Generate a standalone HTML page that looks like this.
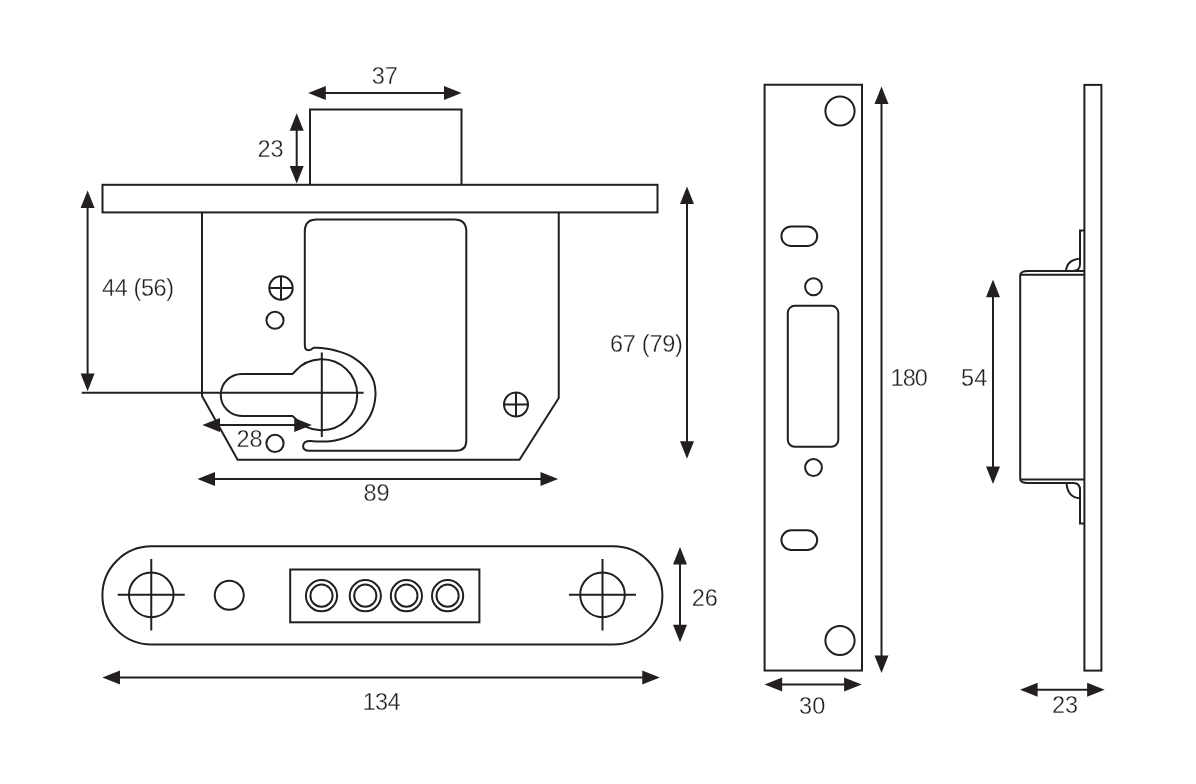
<!DOCTYPE html>
<html><head><meta charset="utf-8"><title>Lock dimensions</title>
<style>
html,body{margin:0;padding:0;background:#fff;}
svg{display:block;}
svg *{fill:none;stroke:#231f20;stroke-width:2.0;stroke-linejoin:miter;}
svg .f{fill:#231f20;stroke:none;}
svg text{fill:#231f20;stroke:#fff;stroke-width:0.3px;paint-order:normal;font-family:"Liberation Sans","DejaVu Sans",sans-serif;}
svg{will-change:transform;}
</style></head>
<body>
<svg width="1196" height="784" viewBox="0 0 1196 784">
<rect x="102.5" y="184.8" width="555" height="27.6"/>
<path d="M310,184.75V109.5H461.5V184.75"/>
<path d="M202,212.25V396L237.6,459.7H519.5L558.75,398V212.25"/>
<path d="M313.4,347.9C314.10,347.88 315.65,347.72 317.60,347.80C319.55,347.88 322.60,348.07 325.10,348.40C327.60,348.73 330.10,349.22 332.60,349.80C335.10,350.38 337.58,351.08 340.10,351.90C342.62,352.72 345.18,353.55 347.70,354.70C350.22,355.85 352.70,357.12 355.20,358.80C357.70,360.48 360.20,362.28 362.70,364.80C365.20,367.32 368.32,371.02 370.20,373.90C372.08,376.78 373.12,379.00 374.00,382.10C374.88,385.20 375.37,389.30 375.50,392.50C375.63,395.70 375.30,398.33 374.80,401.30C374.30,404.27 373.52,407.47 372.50,410.30C371.48,413.13 370.33,415.63 368.70,418.30C367.07,420.97 364.95,423.88 362.70,426.30C360.45,428.72 357.37,431.22 355.20,432.80C353.03,434.38 352.20,434.72 349.70,435.80C347.20,436.88 343.47,438.38 340.20,439.30C336.93,440.22 333.45,440.92 330.10,441.30C326.75,441.68 323.27,441.65 320.10,441.60C316.93,441.55 312.60,441.10 311.10,441.00Q303.2,440.6 303.1,446Q303.2,450.8 309,450.8H456Q466.3,450.8 466.3,440.5V231.5Q466.3,219.4 454.3,219.4H316.8Q304.8,219.4 304.8,231.5V345Q304.8,350.2 308.6,350.2Q311,350.2 313.4,347.9Z"/>
<path d="M292.5,373.9H241.8A21,21 0 0 0 241.8,415.9H292.5L295.4,418.6A35.5,35.5 0 1 0 295.4,371.0Z"/>
<path d="M81.8,392.8H363.6M321.8,352.4V437" stroke-width="1.5"/>
<circle cx="281" cy="288" r="11.7" stroke-width="1.8"/>
<path d="M269.3,288H292.7M281,276.3V299.7" stroke-width="1.5"/>
<circle cx="516" cy="404.5" r="12" stroke-width="1.8"/>
<path d="M504,404.5H528M516,392.5V416.5" stroke-width="1.5"/>
<circle cx="275" cy="320.25" r="8.6" stroke-width="1.8"/>
<circle cx="275" cy="443.4" r="8.6" stroke-width="1.8"/>
<line x1="324.8" y1="93" x2="445.0" y2="93" stroke-width="2.0"/>
<polygon class="f" points="308.2,93 325.8,86.0 325.8,100.0"/>
<polygon class="f" points="461.6,93 444.0,86.0 444.0,100.0"/>
<line x1="296.7" y1="129.75" x2="296.7" y2="167.0" stroke-width="2.0"/>
<polygon class="f" points="296.7,113.15 289.7,130.75 303.7,130.75"/>
<polygon class="f" points="296.7,183.6 289.7,166.0 303.7,166.0"/>
<line x1="87.6" y1="207.0" x2="87.6" y2="374.6" stroke-width="2.0"/>
<polygon class="f" points="87.6,190.4 80.6,208.0 94.6,208.0"/>
<polygon class="f" points="87.6,391.20000000000005 80.6,373.6 94.6,373.6"/>
<line x1="219.0" y1="425" x2="295.25" y2="425" stroke-width="2.0"/>
<polygon class="f" points="202.4,425 220.0,418.0 220.0,432.0"/>
<polygon class="f" points="311.85,425 294.25,418.0 294.25,432.0"/>
<line x1="214.0" y1="479" x2="541.5" y2="479" stroke-width="2.0"/>
<polygon class="f" points="197.4,479 215.0,472.0 215.0,486.0"/>
<polygon class="f" points="558.1,479 540.5,472.0 540.5,486.0"/>
<line x1="687" y1="203.0" x2="687" y2="442.25" stroke-width="2.0"/>
<polygon class="f" points="687,186.4 680.0,204.0 694.0,204.0"/>
<polygon class="f" points="687,458.85 680.0,441.25 694.0,441.25"/>
<text x="384.8" y="83.9" font-size="23.5" text-anchor="middle">37</text>
<text x="270.5" y="156.8" font-size="23.5" text-anchor="middle">23</text>
<text x="137.875" y="295.5" font-size="23.5" text-anchor="middle" letter-spacing="-0.4">44 (56)</text>
<text x="249.45000000000002" y="447" font-size="23.5" text-anchor="middle">28</text>
<text x="376.6" y="501.4" font-size="23.5" text-anchor="middle">89</text>
<text x="646.275" y="352.2" font-size="23.5" text-anchor="middle" letter-spacing="-0.25">67 (79)</text>
<rect x="102.4" y="546.3" width="560" height="98.2" rx="49.1"/>
<circle cx="151.25" cy="594.85" r="22.3"/>
<path d="M117.75,594.85H184.75M151.25,559.1V630.6" stroke-width="1.7"/>
<circle cx="602.5" cy="594.85" r="22.3"/>
<path d="M569.0,594.85H636.0M602.5,559.1V630.6" stroke-width="1.7"/>
<circle cx="229.25" cy="595.25" r="14.5"/>
<rect x="290.2" y="569.5" width="189.2" height="52.8"/>
<circle cx="321.5" cy="595.7" r="15.6" stroke-width="1.7"/>
<circle cx="321.5" cy="595.7" r="11.1" stroke-width="2"/>
<circle cx="365.3" cy="595.7" r="15.6" stroke-width="1.7"/>
<circle cx="365.3" cy="595.7" r="11.1" stroke-width="2"/>
<circle cx="406.4" cy="595.7" r="15.6" stroke-width="1.7"/>
<circle cx="406.4" cy="595.7" r="11.1" stroke-width="2"/>
<circle cx="447.6" cy="595.7" r="15.6" stroke-width="1.7"/>
<circle cx="447.6" cy="595.7" r="11.1" stroke-width="2"/>
<line x1="119.0" y1="677.5" x2="643.25" y2="677.5" stroke-width="2.0"/>
<polygon class="f" points="102.4,677.5 120.0,670.5 120.0,684.5"/>
<polygon class="f" points="659.85,677.5 642.25,670.5 642.25,684.5"/>
<line x1="680" y1="563.5" x2="680" y2="625.75" stroke-width="2.0"/>
<polygon class="f" points="680,546.9 673.0,564.5 687.0,564.5"/>
<polygon class="f" points="680,642.35 673.0,624.75 687.0,624.75"/>
<text x="381.25" y="709.9" font-size="23.5" text-anchor="middle" letter-spacing="-0.7">134</text>
<text x="704.75" y="606.3" font-size="23.5" text-anchor="middle">26</text>
<rect x="764.6" y="84.75" width="97.4" height="585.8"/>
<circle cx="840" cy="111" r="14.6"/>
<circle cx="840" cy="640.5" r="14.6"/>
<rect x="781.4" y="226.4" width="35.8" height="19.6" rx="9.8"/>
<rect x="781.4" y="530.3" width="35.8" height="19.6" rx="9.8"/>
<circle cx="813.5" cy="286.75" r="8.4" stroke-width="1.8"/>
<circle cx="813.5" cy="467.5" r="8.4" stroke-width="1.8"/>
<rect x="787.8" y="305.8" width="50.5" height="141" rx="7"/>
<line x1="881.5" y1="103.0" x2="881.5" y2="656.5" stroke-width="2.0"/>
<polygon class="f" points="881.5,86.4 874.5,104.0 888.5,104.0"/>
<polygon class="f" points="881.5,673.1 874.5,655.5 888.5,655.5"/>
<line x1="781.2" y1="684.5" x2="845.1" y2="684.5" stroke-width="2.0"/>
<polygon class="f" points="764.6,684.5 782.2,677.5 782.2,691.5"/>
<polygon class="f" points="861.7,684.5 844.1,677.5 844.1,691.5"/>
<text x="908.75" y="385.7" font-size="23.5" text-anchor="middle" letter-spacing="-0.9">180</text>
<text x="812.1500000000001" y="714.2" font-size="23.5" text-anchor="middle">30</text>
<rect x="1084.4" y="84.9" width="17" height="585.7" stroke-width="2.2"/>
<path d="M1084.6,270.9H1028Q1020.2,271 1020.2,275.2V479Q1020.2,483 1028,483H1073.5Q1080,483 1080,490V523.4H1084.6" stroke-width="2.2"/>
<path d="M1084.6,230.5H1080V264Q1080,270.9 1073,270.9" stroke-width="2.2"/>
<path d="M1020.2,274.8H1084.6M1020.2,479.4H1084.6" stroke-width="2.2"/>
<path d="M1066,270.9Q1067,259.5 1080,258.7M1066.5,483Q1067.5,497.5 1080,498.3" stroke-width="1.8"/>
<line x1="993" y1="296.2" x2="993" y2="467.4" stroke-width="2.0"/>
<polygon class="f" points="993,279.59999999999997 986.0,297.2 1000.0,297.2"/>
<polygon class="f" points="993,484.0 986.0,466.4 1000.0,466.4"/>
<line x1="1036.6" y1="689.7" x2="1088.1" y2="689.7" stroke-width="2.0"/>
<polygon class="f" points="1020.0,689.7 1037.6,682.7 1037.6,696.7"/>
<polygon class="f" points="1104.6999999999998,689.7 1087.1,682.7 1087.1,696.7"/>
<text x="974.1500000000001" y="385.7" font-size="23.5" text-anchor="middle">54</text>
<text x="1065.1" y="713.1" font-size="23.5" text-anchor="middle">23</text>
</svg>
</body></html>
